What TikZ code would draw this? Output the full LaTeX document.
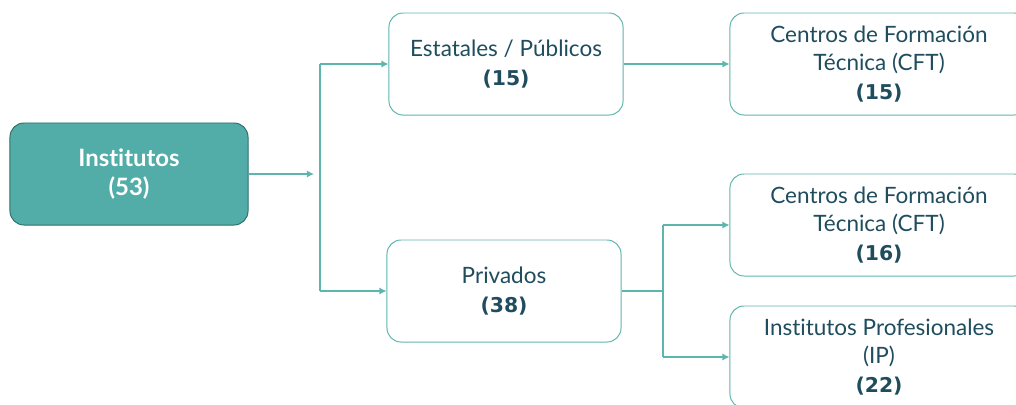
\documentclass[tikz,border=0pt]{standalone}
\usepackage{fontspec}
\setmainfont{Lato}[Ligatures=NoCommon]
\newfontfamily\numfont{DejaVu Sans}
\usepackage{xcolor}
\usetikzlibrary{arrows.meta}
\definecolor{tealfill}{HTML}{52ADA8}
\definecolor{tealedge}{HTML}{2F6F6B}
\definecolor{tealline}{HTML}{5DB5AF}
\definecolor{textdark}{HTML}{1F4D5E}
\newcommand{\numtxt}[1]{{\numfont\bfseries\fontsize{14.5}{20.5}\selectfont #1}}
\tikzset{
	box/.style={draw=tealline, line width=0.7pt, rounded corners=10pt, fill=white,
		minimum width=5.85cm, minimum height=2.55cm, align=center, text=textdark,
		font=\fontsize{16}{20.5}\selectfont},
	widebox/.style={box, minimum width=7.45cm},
	rootbox/.style={box, draw=tealedge, fill=tealfill, text=white, minimum width=5.95cm,
		font=\fontsize{17}{20.5}\selectfont\bfseries},
	link/.style={draw=tealline, line width=0.8pt},
	arr/.style={link, -{Latex[length=5pt,width=5pt]}}
}
\begin{document}
\begin{tikzpicture}[x=0.025cm, y=-0.025cm]
	\useasboundingbox (0,0) rectangle (1016,404);
	\clip (0,0) rectangle (1016,404);
	\node[rootbox](inst) at (129,174) {Institutos\\(53)};
	\node[box](estat) at (506,64) {Estatales / Públicos\\\numtxt{(15)}};
	\node[box](priv) at (504,291) {Privados\\\numtxt{(38)}};
	\node[widebox](cft1) at (879,64) {Centros de Formación\\Técnica (CFT)\\\numtxt{(15)}};
	\node[widebox](cft2) at (879,225) {Centros de Formación\\Técnica (CFT)\\\numtxt{(16)}};
	\node[widebox](ip) at (879,357) {Institutos Profesionales\\(IP)\\\numtxt{(22)}};
	%%% split after Institutos
	\coordinate(ein) at (314,174);
	\coordinate(stop) at (320,64);
	\coordinate(sbot) at (320,291);
	\draw[arr] (inst) -- (ein);
	\draw[link] (stop) -- (sbot);
	\draw[arr] (stop) -- (estat);
	\draw[arr] (sbot) -- (priv);
	%%% public branch
	\draw[arr] (estat) -- (cft1);
	%%% private branch
	\coordinate(pmid) at (663,291);
	\coordinate(ptop) at (663,225);
	\coordinate(pbot) at (663,357);
	\draw[link] (priv) -- (pmid);
	\draw[link] (ptop) -- (pbot);
	\draw[arr] (ptop) -- (cft2);
	\draw[arr] (pbot) -- (ip);
\end{tikzpicture}
\end{document}
